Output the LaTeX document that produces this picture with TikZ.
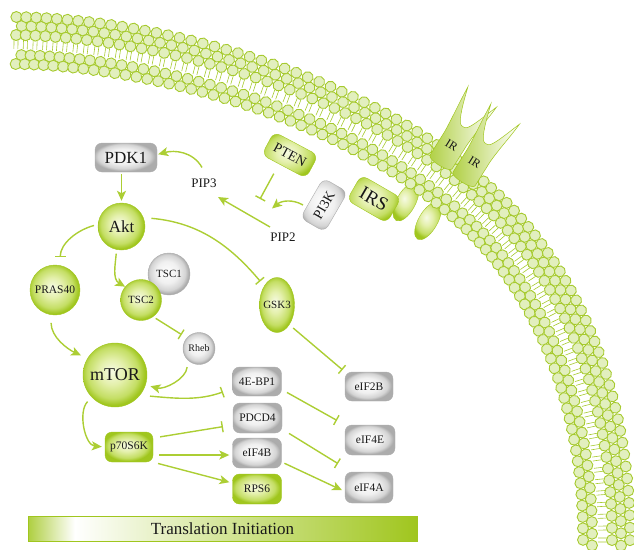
\documentclass[tikz,border=0pt]{standalone}
\usepackage{fontspec}
\setmainfont{Liberation Serif}
\usetikzlibrary{arrows.meta,shapes.geometric}
\definecolor{G}{RGB}{160,198,30}
\definecolor{GL}{RGB}{172,206,52}
\definecolor{headfill}{RGB}{226,239,190}
\definecolor{headline}{RGB}{166,202,46}
\definecolor{gW}{RGB}{246,250,228}
\definecolor{gL}{RGB}{228,240,172}
\definecolor{gM}{RGB}{196,222,100}
\definecolor{kW}{RGB}{253,253,253}
\definecolor{kL}{RGB}{240,240,240}
\definecolor{kM}{RGB}{212,212,212}
\definecolor{kD}{RGB}{172,172,172}
\pgfdeclareradialshading{gball}{\pgfpoint{-3bp}{3bp}}{color(0bp)=(gW); color(10bp)=(gL); color(20bp)=(gM); color(25bp)=(G); color(50bp)=(G)}
\pgfdeclareradialshading{kball}{\pgfpoint{-3bp}{3bp}}{color(0bp)=(kW); color(13bp)=(kL); color(21bp)=(kM); color(25bp)=(kD); color(50bp)=(kD)}
\pgfdeclarehorizontalshading{barshade}{100bp}{color(0bp)=(G); color(25bp)=(G!85); color(31bp)=(white); color(50bp)=(G!45); color(75bp)=(G); color(100bp)=(G)}
\tikzset{
  fs/.style={font=\fontsize{#1}{#1}\selectfont},
  gcirc/.style={circle, shading=gball, draw=G, line width=0.4pt, inner sep=0pt, text=black!90},
  kcirc/.style={circle, shading=kball, draw=kD, line width=0.4pt, inner sep=0pt, text=black!90},
  gbox/.style={rectangle, rounded corners=7pt, shading=gball, draw=G, line width=0.4pt, inner sep=0pt, text=black!90},
  kbox/.style={rectangle, rounded corners=7pt, shading=kball, draw=kD, line width=0.4pt, inner sep=0pt, text=black!90},
  lbl/.style={inner sep=1pt, text=black!90},
  conn/.style={draw=GL, line width=1.4pt},
  act/.style={conn, -{Stealth[length=10pt, width=9pt, inset=2.5pt]}},
  inh/.style={conn, -{Bar[width=11pt]}},
  headst/.style={draw=headline, fill=headfill, line width=0.9pt},
  tailst/.style={draw=headline, line width=0.6pt},
  legst/.style={ellipse, shading=gball, draw=G, line width=0.4pt, inner sep=0pt},
  irst/.style={left color=G!85, right color=white, draw=G, line width=0.5pt},
  tibar/.style={rectangle, shading=barshade, draw=G, line width=0.6pt, inner sep=0pt, text=black!90},
}
\newcommand{\mylipid}{%
   \draw[tailst] (-2,2) -- (-2,-7) (2,2) -- (2,-7);
   \draw[headst] (0,25) circle (5.5);
   \draw[headst] (5.5,16) circle (5.5);
   \draw[headst] (0,7) circle (5.5);
   \draw[headst] (5.5,-13) circle (5.5);
   \draw[headst] (0,-22) circle (5.5);}
\begin{document}
\begin{tikzpicture}[x=1pt,y=1pt]
\useasboundingbox (0,0) rectangle (634,-549);
% IR intracellular legs (behind the membrane)
\node[legst, rotate=62, minimum width=42pt, minimum height=19pt] (leg1) at (406,-202) {};
\node[legst, rotate=60, minimum width=42pt, minimum height=19pt] (leg2) at (428,-221) {};
% membrane, first piece
\foreach \i in {0,...,43}{
  \pgfmathsetmacro\t{\i/43}
  \pgfmathsetmacro\u{1-\t}
  \pgfmathsetmacro\px{\u*\u*\u*16 + 3*\u*\u*\t*150 + 3*\u*\t*\t*350 + \t*\t*\t*467}
  \pgfmathsetmacro\py{\u*\u*\u*(-42) + 3*\u*\u*\t*(-44) + 3*\u*\t*\t*(-95) + \t*\t*\t*(-200)}
  \pgfmathsetmacro\dx{3*\u*\u*1.34 + 6*\u*\t*2.00 + 3*\t*\t*1.17}
  \pgfmathsetmacro\dy{3*\u*\u*(-0.02) + 6*\u*\t*(-0.51) + 3*\t*\t*(-1.05)}
  \pgfmathsetmacro\ang{atan2(\dy,\dx)}
  \begin{scope}[shift={(\px,\py)}, rotate=\ang]
    \mylipid
  \end{scope}
}
% membrane, second piece
\foreach \i in {1,...,35}{
  \pgfmathsetmacro\t{\i/35}
  \pgfmathsetmacro\u{1-\t}
  \pgfmathsetmacro\px{\u*\u*\u*467 + 3*\u*\u*\t*555 + 3*\u*\t*\t*606 + \t*\t*\t*605}
  \pgfmathsetmacro\py{\u*\u*\u*(-200) + 3*\u*\u*\t*(-275) + 3*\u*\t*\t*(-400) + \t*\t*\t*(-540)}
  \pgfmathsetmacro\dx{3*\u*\u*0.88 + 6*\u*\t*0.51 + 3*\t*\t*(-0.01)}
  \pgfmathsetmacro\dy{3*\u*\u*(-0.75) + 6*\u*\t*(-1.25) + 3*\t*\t*(-1.40)}
  \pgfmathsetmacro\ang{atan2(\dy,\dx)}
  \begin{scope}[shift={(\px,\py)}, rotate=\ang]
    \mylipid
  \end{scope}
}
% IR receptors
\begin{scope}[shift={(441,-162)}, rotate=-32]
\shade[irst] (-13,0) .. controls (-13,-5) and (13,-5) .. (13,0) -- (13,28) .. controls (14,46) and (17,60) .. (18,76) .. controls (12,60) and (8,48) .. (4,43) .. controls (2,41) and (-2,41) .. (-4,43) .. controls (-8,48) and (-12,60) .. (-17,78) .. controls (-16,60) and (-14,46) .. (-13,28) -- cycle;
\node[lbl, rotate=-32, fs=12] (ir1) at (0,20) {IR};
\end{scope}
\begin{scope}[shift={(464,-179)}, rotate=-32]
\shade[irst] (-13,0) .. controls (-13,-5) and (13,-5) .. (13,0) -- (13,28) .. controls (14,46) and (17,60) .. (18,76) .. controls (12,60) and (8,48) .. (4,43) .. controls (2,41) and (-2,41) .. (-4,43) .. controls (-8,48) and (-12,60) .. (-17,78) .. controls (-16,60) and (-14,46) .. (-13,28) -- cycle;
\node[lbl, rotate=-32, fs=12] (ir2) at (0,20) {IR};
\end{scope}
% nodes
\node[gbox, rotate=-28, minimum width=50pt, minimum height=26pt, fs=14] (pten) at (290,-155) {PTEN};
\node[kbox, rotate=60, minimum width=46pt, minimum height=28pt, fs=14] (pi3k) at (324,-205) {PI3K};
\node[gbox, rotate=-30, minimum width=46pt, minimum height=29pt, fs=19] (irs) at (374,-199) {IRS};
\node[kbox, minimum width=62pt, minimum height=29pt, fs=17] (pdk1) at (126,-157.5) {PDK1};
\node[gcirc, minimum size=47pt, fs=17] (akt) at (121.5,-226.5) {Akt};
\node[lbl, fs=13] (pip3) at (204,-183) {PIP3};
\node[lbl, fs=13] (pip2) at (283,-237) {PIP2};
\node[gcirc, minimum size=50pt, fs=11.5] (pras40) at (55,-290) {PRAS40};
\node[kcirc, minimum size=42pt, fs=11] (tsc1) at (169,-274) {TSC1};
\node[gcirc, minimum size=41pt, fs=11] (tsc2) at (141,-300) {TSC2};
\node[legst, minimum width=35pt, minimum height=55pt, inner xsep=-2pt, fs=11, text=black!90] (gsk3) at (277,-305) {GSK3};
\node[kcirc, minimum size=32pt, fs=10] (rheb) at (199,-348.5) {Rheb};
\node[gcirc, minimum size=64pt, fs=18] (mtor) at (115,-375) {mTOR};
\node[kbox, minimum width=49pt, minimum height=29pt, fs=11.5] (ebp) at (257,-381.5) {4E-BP1};
\node[kbox, minimum width=49pt, minimum height=30pt, fs=11.5] (pdcd4) at (257.5,-418) {PDCD4};
\node[kbox, minimum width=49pt, minimum height=30pt, fs=11.5] (eif4b) at (257,-453) {eIF4B};
\node[gbox, minimum width=49pt, minimum height=30pt, fs=11.5] (rps6) at (257,-489) {RPS6};
\node[gbox, minimum width=48pt, minimum height=30pt, fs=11.5] (p70) at (129,-447) {p70S6K};
\node[kbox, minimum width=48pt, minimum height=29pt, fs=11.5] (eif2b) at (369,-386.5) {eIF2B};
\node[kbox, minimum width=50pt, minimum height=30pt, fs=11.5] (eif4e) at (370,-440) {eIF4E};
\node[kbox, minimum width=48pt, minimum height=31pt, fs=11.5] (eif4a) at (369,-487.5) {eIF4A};
\node[tibar, minimum width=389pt, minimum height=25pt, fs=17] (ti) at (222.5,-528.5) {Translation Initiation};
% free ends
\coordinate (ptenT) at (260,-199);
\coordinate (pi3kT) at (272,-208.5);
% connectors
\draw[act, shorten >=1pt] ([shift={(-2pt,10pt)}]pip3.north) to[out=120, in=15] ([yshift=3pt]pdk1.east);
\draw[act, shorten <=2pt, shorten >=2pt] (akt.north |- pdk1.south) -- (akt.north);
\draw[inh, shorten <=8pt, shorten >=6pt] (akt.22) to[out=-5, in=130] (gsk3.124);
\draw[inh, shorten <=4pt, shorten >=8pt] (akt.175) to[out=195, in=90] (pras40.78);
\draw[act, shorten <=4pt] (akt.258) to[out=265, in=150] (tsc2.140);
\draw[inh, shorten <=3pt, shorten >=6pt] (tsc2.-54) -- (rheb.139);
\draw[act, shorten <=7pt, shorten >=5pt] (rheb.226) to[out=265, in=-15] (mtor.-18);
\draw[act, shorten <=8pt, shorten >=7pt] (pras40.261) to[out=270, in=155] (mtor.149);
\draw[inh, shorten <=10pt, shorten >=10pt] (mtor.-39) to[out=-5, in=200] ([yshift=-7pt]ebp.west);
\draw[act, shorten <=6pt, shorten >=3pt] (mtor.224) to[out=225, in=175] (p70.west);
\draw[inh, shorten <=7pt, shorten >=10pt] ([yshift=9pt]p70.east) -- ([yshift=-7pt]pdcd4.west);
\draw[act, shorten <=6pt, shorten >=3pt] ([yshift=-8pt]p70.east) -- ([yshift=-2pt]eif4b.west);
\draw[act, shorten <=5pt, shorten >=3pt] (p70.south east) -- ([yshift=6pt]rps6.west);
\draw[inh, shorten <=6pt, shorten >=9pt] ([yshift=-8pt]ebp.east) -- (eif4e.north west);
\draw[inh, shorten <=8pt, shorten >=8pt] ([yshift=4pt]pdcd4.south east) -- ([yshift=4pt]eif4a.north west);
\draw[act, shorten <=3pt, shorten >=3pt] ([yshift=-9pt]eif4b.east) -- ([yshift=-4pt]eif4a.west);
\draw[inh, shorten <=5pt, shorten >=3pt] (gsk3.-58) -- (eif2b.north west);
\draw[inh] ([shift={(-10pt,-7pt)}]pten.south) -- (ptenT);
\draw[act] ([xshift=-21pt]pi3k.center) to[out=150, in=40] (pi3kT);
\draw[act] ([shift={(-13pt,10pt)}]pip2.center) -- ([shift={(14pt,-14pt)}]pip3.center);
\end{tikzpicture}
\end{document}
